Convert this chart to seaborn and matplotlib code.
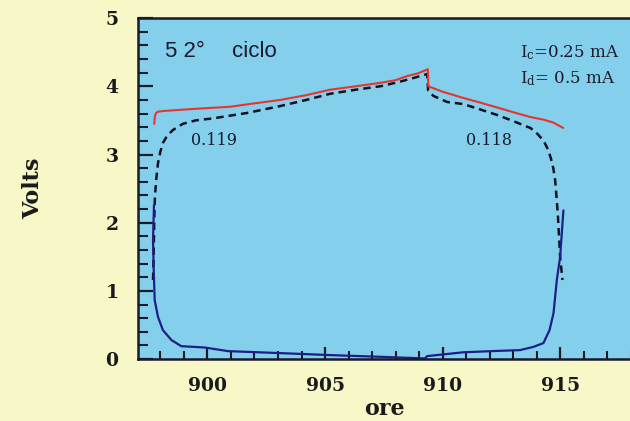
import matplotlib
matplotlib.use("Agg")
import matplotlib.pyplot as plt
import seaborn as sns
import pandas as pd
from matplotlib.ticker import MultipleLocator

# ---- data ----
charge_x = [897.74, 897.77, 897.82, 897.92, 898.2, 899.5, 900.96, 902.0, 903.09, 904.2, 905.21,
            906.3, 907.34, 908.0, 908.49, 908.95, 909.37, 909.39, 910.0, 910.87,
            911.6, 912.31, 913.0, 913.72, 914.3, 914.69, 915.12]
charge_v = [3.45, 3.56, 3.61, 3.63, 3.64, 3.67, 3.70, 3.75, 3.80, 3.87, 3.95,
            4.00, 4.05, 4.09, 4.15, 4.19, 4.25, 4.00, 3.92, 3.83,
            3.76, 3.69, 3.62, 3.55, 3.51, 3.47, 3.39]

dash_x = [897.69, 897.72, 897.74, 897.77, 897.83, 897.90, 898.0, 898.11, 898.3, 898.54,
          898.96, 899.5, 900.24, 901.7, 903.09, 904.2, 905.21, 906.3, 907.34, 908.1,
          908.74, 909.34, 909.38, 909.6, 910.19, 910.87, 911.6, 912.31, 913.0, 913.72,
          913.95, 914.14, 914.32, 914.48, 914.6, 914.7, 914.78, 914.89, 914.99, 915.09]
dash_v = [1.16, 1.60, 2.00, 2.38, 2.65, 2.87, 3.04, 3.17, 3.28, 3.36,
          3.45, 3.50, 3.53, 3.61, 3.71, 3.80, 3.89, 3.95, 4.00, 4.06,
          4.12, 4.18, 3.94, 3.86, 3.77, 3.74, 3.66, 3.58, 3.49, 3.39,
          3.33, 3.26, 3.18, 3.07, 2.94, 2.80, 2.62, 2.14, 1.50, 1.16]

disch_x = [897.73, 897.69, 897.72, 897.76, 897.90, 898.11, 898.47, 898.89, 899.89, 900.88,
           903.09, 905.21, 907.34, 909.25, 909.34, 910.87, 912.3, 913.29, 913.86, 914.28,
           914.54, 914.71, 914.85, 914.99, 915.13]
disch_v = [2.26, 1.745, 1.30, 0.865, 0.62, 0.425, 0.28, 0.19, 0.17, 0.117,
           0.088, 0.059, 0.034, 0.01, 0.044, 0.10, 0.12, 0.132, 0.18, 0.235,
           0.425, 0.675, 1.16, 1.50, 2.18]

x_ticks = [900, 905, 910, 915]
y_ticks = [0, 1, 2, 3, 4, 5]
title_num = "5 2°"
title_word = "ciclo"
current_c = r"I$_{\rm c}$=0.25 mA"
current_d = r"I$_{\rm d}$= 0.5 mA"
eff_left = "0.119"
eff_right = "0.118"

# ---- figure ----
sns.set_style("ticks")
plt.rcParams["mathtext.fontset"] = "dejavuserif"
fig_bg = "#f8f7c8"
ax_bg = "#84cfec"
fig = plt.figure(figsize=(6.3, 4.21), dpi=100, facecolor=fig_bg)
ax = fig.add_axes([0.219, 0.147, 0.7825, 0.81])
ax.set_facecolor(ax_bg)

df_c = pd.DataFrame({"x": charge_x, "v": charge_v})
df_d = pd.DataFrame({"x": dash_x, "v": dash_v})
df_s = pd.DataFrame({"x": disch_x, "v": disch_v})

sns.lineplot(data=df_d, x="x", y="v", ax=ax, sort=False, estimator=None,
             color="#111122", linewidth=1.8, linestyle=(0, (3, 2)))
sns.lineplot(data=df_c, x="x", y="v", ax=ax, sort=False, estimator=None,
             color="#e8342e", linewidth=1.5)
sns.lineplot(data=df_s, x="x", y="v", ax=ax, sort=False, estimator=None,
             color="#1e1e88", linewidth=1.6)

ax.set_xlim(897.05, 918.0)
ax.set_ylim(0, 5)
ax.set_xticks(x_ticks)
ax.set_yticks(y_ticks)
ax.xaxis.set_minor_locator(MultipleLocator(1))
ax.yaxis.set_minor_locator(MultipleLocator(0.2))
ax.tick_params(axis="both", which="major", direction="in", width=1.6, color="#1a1a2a",
               labelsize=13.5, labelcolor="#1a1a1a")
ax.tick_params(axis="y", which="major", length=11, pad=14)
ax.tick_params(axis="y", which="minor", direction="in", length=7, width=1.5, color="#1a1a2a")
ax.tick_params(axis="x", which="major", length=9, pad=13)
ax.tick_params(axis="x", which="minor", direction="in", length=6, width=1.5, color="#1a1a2a")
for lab in ax.get_xticklabels() + ax.get_yticklabels():
    lab.set_fontfamily("DejaVu Serif")
    lab.set_fontweight("bold")

for s in ["left", "bottom", "top", "right"]:
    ax.spines[s].set_visible(True)
    ax.spines[s].set_linewidth(1.8)
    ax.spines[s].set_color("#1a1a2a")

ax.set_xlabel("ore", fontsize=16, fontweight="bold", family="DejaVu Serif",
              color="#1a1a1a", labelpad=2)
ax.set_ylabel("Volts", fontsize=16, fontweight="bold", family="DejaVu Serif",
              color="#1a1a1a", labelpad=44)

ax.text(0.055, 0.885, title_num, transform=ax.transAxes, fontsize=16,
        family="Liberation Sans", color="#1a1a2a", va="baseline")
ax.text(0.19, 0.885, title_word, transform=ax.transAxes, fontsize=16,
        family="Liberation Sans", color="#1a1a2a", va="baseline")
ax.text(0.775, 0.885, current_c, transform=ax.transAxes, fontsize=12,
        family="DejaVu Serif", color="#1a1a2a", va="baseline")
ax.text(0.775, 0.808, current_d, transform=ax.transAxes, fontsize=12,
        family="DejaVu Serif", color="#1a1a2a", va="baseline")
ax.text(900.3, 3.20, eff_left, fontsize=11.5, family="DejaVu Serif",
        color="#1a1a2a", ha="center", va="center")
ax.text(911.95, 3.20, eff_right, fontsize=11.5, family="DejaVu Serif",
        color="#1a1a2a", ha="center", va="center")

fig.savefig("out.png", dpi=100, facecolor=fig_bg)
